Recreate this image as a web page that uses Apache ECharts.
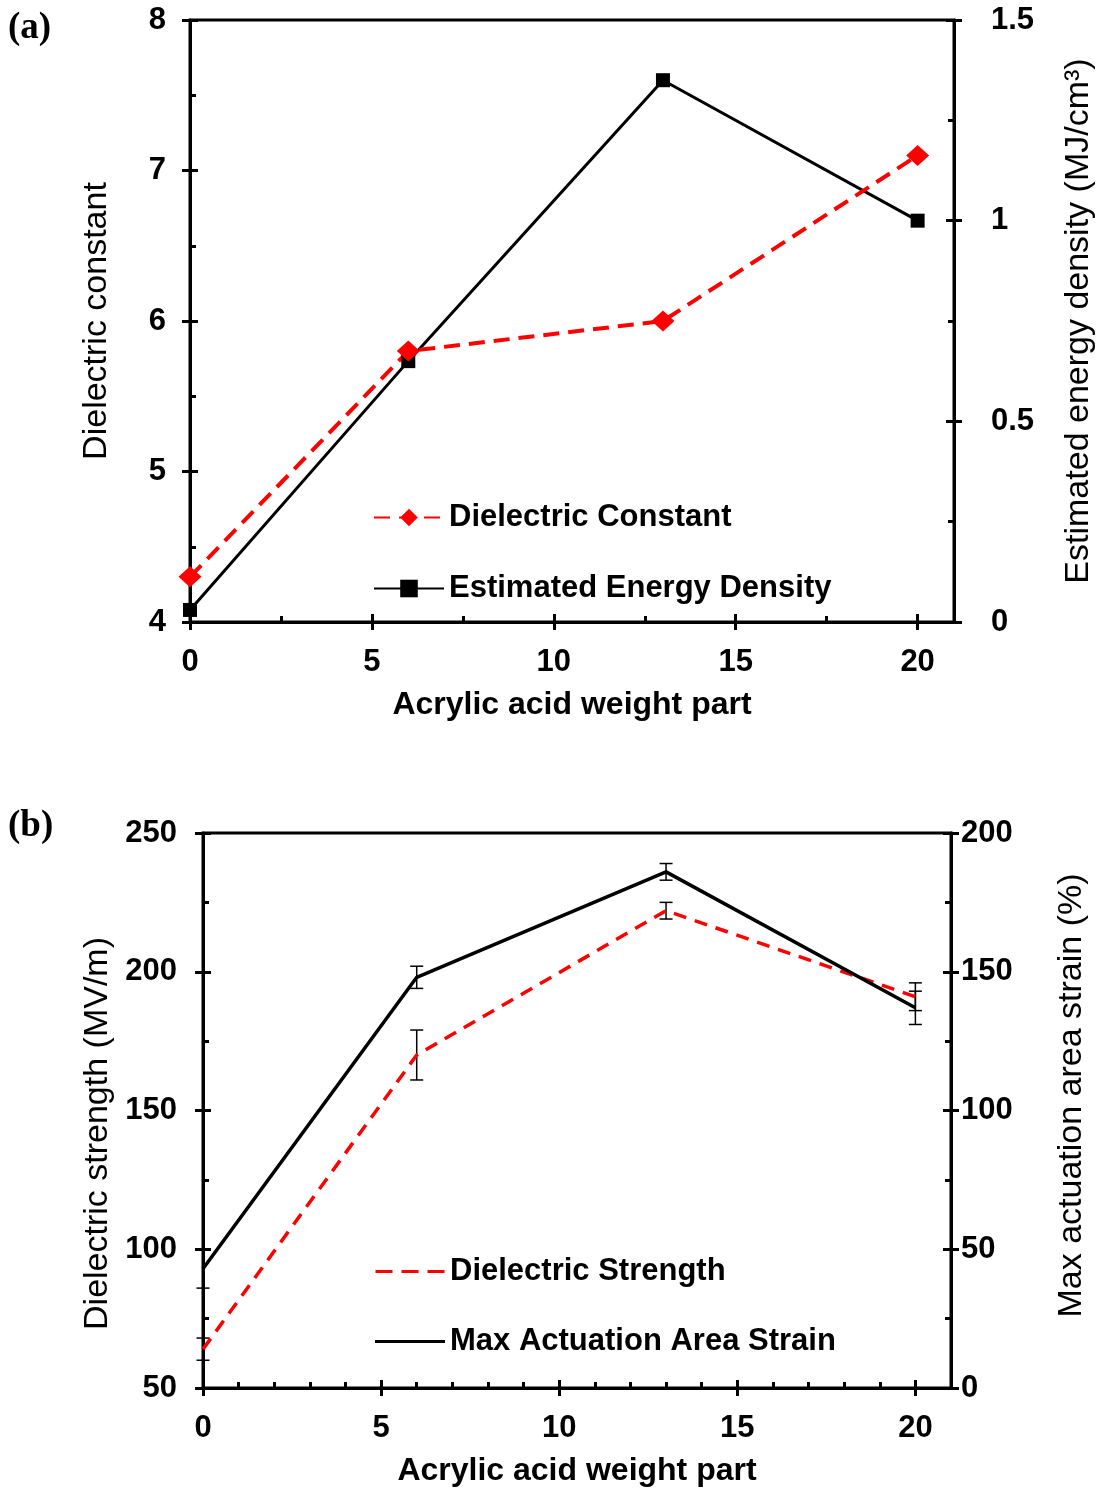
<!DOCTYPE html>
<html lang="en">
<head>
<meta charset="UTF-8">
<title>Acrylic acid weight part</title>
<script src="https://cdn.jsdelivr.net/npm/echarts@6/dist/echarts.min.js"></script>
<style>
html, body { margin: 0; padding: 0; background: #fff; }
#chart { width: 1104px; height: 1488px; }
</style>
</head>
<body>
<div id="chart"></div>
<script>
// data
const acrylicParts = [0, 6, 13, 20];
const dielectricConstant = [4.3, 5.8, 6.0, 7.1];
const energyDensity = [0.03, 0.65, 1.35, 1.0];
const dielectricStrength = [64, 170, 222, 191];
const strengthError = [4, 9, 3, 5];
const areaStrain = [43, 148, 186, 137];
const strainError = [7, 4, 3, 6];

// tick values
const xMajor = [0, 5, 10, 15, 20];
const xMinorA = [2.5, 7.5, 12.5, 17.5];
const xMinorB = [1, 2, 3, 4, 6, 7, 8, 9, 11, 12, 13, 14, 16, 17, 18, 19];
const constMajor = [4, 5, 6, 7, 8];
const constMinor = [4.5, 5.5, 6.5, 7.5];
const energyMajor = [0, 0.5, 1, 1.5];
const energyMinor = [0.25, 0.75, 1.25];
const strengthMajor = [50, 100, 150, 200, 250];
const strengthMinor = [75, 125, 175, 225];
const strainMajor = [0, 50, 100, 150, 200];
const strainMinor = [25, 75, 125, 175];

const FONT = "'Liberation Sans', Arial, sans-serif";
const tickFont = { color: '#000', fontFamily: FONT, fontWeight: 'bold', fontSize: 31 };
const nameFont = { color: '#000', fontFamily: FONT, fontSize: 34 };

function mainAxis(opt) {
  return Object.assign({
    type: 'value',
    axisLine: { show: true, onZero: false, lineStyle: { color: '#000', width: 3 } },
    axisTick: { show: false },
    splitLine: { show: false },
    nameTextStyle: nameFont
  }, opt, {
    axisLabel: Object.assign({ customValues: opt.labels }, tickFont, opt.axisLabel || {})
  });
}

// extra axes that only draw ticks (crossing majors and inward minors)
function tickAxis(base, values, len, inside) {
  return {
    type: 'value',
    gridIndex: base.gridIndex,
    position: base.position,
    min: base.min,
    max: base.max,
    offset: inside ? 0 : -len / 2,
    axisLine: { show: false, onZero: false },
    axisLabel: { show: false },
    splitLine: { show: false },
    axisTick: {
      show: true, inside: inside, length: len,
      customValues: values,
      lineStyle: { color: '#000', width: 3 }
    }
  };
}

const xName = { color: '#000', fontFamily: FONT, fontSize: 32, fontWeight: 'bold' };
const xA = mainAxis({
  gridIndex: 0, position: 'bottom', min: 0, max: 21, labels: xMajor,
  axisLabel: { margin: 25 },
  name: 'Acrylic acid weight part', nameLocation: 'middle', nameGap: 67, nameTextStyle: xName
});
const xB = mainAxis({
  gridIndex: 1, position: 'bottom', min: 0, max: 21, labels: xMajor,
  axisLabel: { margin: 25 },
  name: 'Acrylic acid weight part', nameLocation: 'middle', nameGap: 67, nameTextStyle: xName
});
const yConst = mainAxis({
  gridIndex: 0, position: 'left', min: 4, max: 8, labels: constMajor,
  axisLabel: { margin: 24 },
  name: 'Dielectric constant', nameLocation: 'middle', nameGap: 76, nameRotate: 90
});
const yEnergy = mainAxis({
  gridIndex: 0, position: 'right', min: 0, max: 1.5, labels: energyMajor,
  axisLabel: { margin: 37 },
  name: 'Estimated energy density (MJ/cm³)', nameLocation: 'middle', nameGap: 108, nameRotate: 90
});
const yStrength = mainAxis({
  gridIndex: 1, position: 'left', min: 50, max: 250, labels: strengthMajor,
  axisLabel: { margin: 26 },
  name: 'Dielectric strength (MV/m)', nameLocation: 'middle', nameGap: 88, nameRotate: 90,
  nameTextStyle: Object.assign({}, nameFont, { padding: [0, 46, 0, 0] })
});
const yStrain = mainAxis({
  gridIndex: 1, position: 'right', min: 0, max: 200, labels: strainMajor,
  axisLabel: { margin: 10 },
  name: 'Max actuation area strain (%)', nameLocation: 'middle', nameGap: 104, nameRotate: 90,
  nameTextStyle: Object.assign({}, nameFont, { padding: [0, 0, 0, 30] })
});

const xAxes = [
  xA, tickAxis(xA, xMajor, 16, false), tickAxis(xA, xMinorA, 6, true),
  xB, tickAxis(xB, xMajor, 16, false), tickAxis(xB, xMinorB, 6, true)
];
const yAxes = [
  yConst, tickAxis(yConst, constMajor, 16, false), tickAxis(yConst, constMinor, 6, true),
  yEnergy, tickAxis(yEnergy, energyMajor, 16, false), tickAxis(yEnergy, energyMinor, 6, true),
  yStrength, tickAxis(yStrength, strengthMajor, 16, false), tickAxis(yStrength, strengthMinor, 6, true),
  yStrain, tickAxis(yStrain, strainMajor, 16, false), tickAxis(yStrain, strainMinor, 6, true)
];

function pairs(xs, ys) { return xs.map((x, i) => [x, ys[i]]); }
function withErr(xs, ys, es) { return xs.map((x, i) => [x, ys[i], es[i]]); }

function errorBars(params, api) {
  const x = api.value(0), y = api.value(1), e = api.value(2);
  const hi = api.coord([x, y + e]);
  const lo = api.coord([x, y - e]);
  const cap = 6.5;
  const style = { stroke: '#000', lineWidth: 1.5 };
  return {
    type: 'group',
    children: [
      { type: 'line', shape: { x1: hi[0], y1: hi[1], x2: lo[0], y2: lo[1] }, style: style },
      { type: 'line', shape: { x1: hi[0] - cap, y1: hi[1], x2: hi[0] + cap, y2: hi[1] }, style: style },
      { type: 'line', shape: { x1: lo[0] - cap, y1: lo[1], x2: lo[0] + cap, y2: lo[1] }, style: style }
    ]
  };
}

const legendText = { color: '#000', fontFamily: FONT, fontWeight: 'bold', fontSize: 31 };
// plain line icons for the legend of panel (b)
const dashIcon = 'path://M0,0h17v3h-17z M26,0h17v3h-17z M52,0h17v3h-17z';
const solidIcon = 'path://M0,0h70v3h-70z';

const chart = echarts.init(document.getElementById('chart'));
chart.setOption({
  animation: false,
  backgroundColor: '#fff',
  grid: [
    { left: 190, top: 20, width: 768, height: 602, show: true, borderColor: '#000', borderWidth: 3, backgroundColor: 'transparent' },
    { left: 203, top: 833, width: 748, height: 555, show: true, borderColor: '#000', borderWidth: 3, backgroundColor: 'transparent' }
  ],
  xAxis: xAxes,
  yAxis: yAxes,
  legend: [
    {
      orient: 'vertical', left: 368, top: 497, itemWidth: 70, itemHeight: 22, itemGap: 40,
      textStyle: legendText,
      data: ['Dielectric Constant', 'Estimated Energy Density']
    },
    {
      orient: 'vertical', left: 370, top: 1251, itemWidth: 70, itemHeight: 3, itemGap: 39,
      textStyle: legendText,
      data: [
        { name: 'Dielectric Strength', icon: dashIcon },
        { name: 'Max Actuation Area Strain', icon: solidIcon }
      ]
    }
  ],
  graphic: [
    { type: 'text', left: 8, top: 10, style: { text: '(a)', font: "bold 37px 'Liberation Serif', serif", fill: '#000' } },
    { type: 'text', left: 8, top: 808, style: { text: '(b)', font: "bold 37px 'Liberation Serif', serif", fill: '#000' } }
  ],
  series: [
    {
      name: 'Estimated Energy Density', type: 'line', xAxisIndex: 0, yAxisIndex: 3,
      data: pairs(acrylicParts, energyDensity),
      symbol: 'rect', symbolSize: 14,
      lineStyle: { color: '#000', width: 3 }, itemStyle: { color: '#000' }
    },
    {
      name: 'Dielectric Constant', type: 'line', xAxisIndex: 0, yAxisIndex: 0,
      data: pairs(acrylicParts, dielectricConstant),
      symbol: 'diamond', symbolSize: [23, 21],
      lineStyle: { color: '#ff0000', width: 4, type: [16, 9] }, itemStyle: { color: '#ff0000' }
    },
    {
      name: 'Dielectric Strength', type: 'line', xAxisIndex: 3, yAxisIndex: 6,
      data: pairs(acrylicParts, dielectricStrength), showSymbol: false,
      lineStyle: { color: '#ff0000', width: 3.5, type: [13, 9] }, itemStyle: { color: '#ff0000' }
    },
    {
      name: 'Max Actuation Area Strain', type: 'line', xAxisIndex: 3, yAxisIndex: 9,
      data: pairs(acrylicParts, areaStrain), showSymbol: false,
      lineStyle: { color: '#000', width: 3.5 }, itemStyle: { color: '#000' }
    },
    {
      type: 'custom', xAxisIndex: 3, yAxisIndex: 6, renderItem: errorBars,
      data: withErr(acrylicParts, dielectricStrength, strengthError), z: 3
    },
    {
      type: 'custom', xAxisIndex: 3, yAxisIndex: 9, renderItem: errorBars,
      data: withErr(acrylicParts, areaStrain, strainError), z: 3
    }
  ]
});
window.addEventListener('resize', () => chart.resize());
</script>
</body>
</html>
